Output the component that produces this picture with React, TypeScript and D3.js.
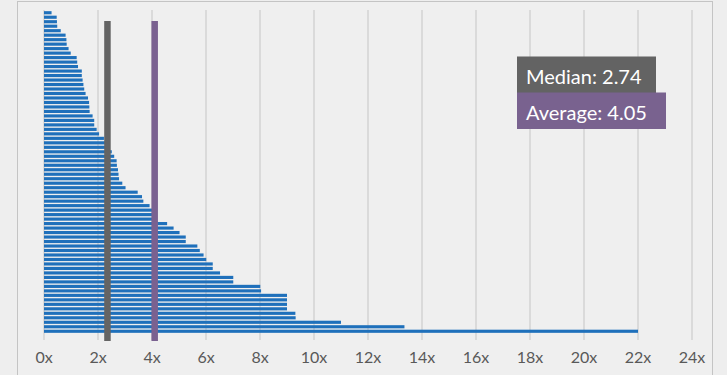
import React from "react";
import * as d3 from "d3";

const values: number[] = [
  0.28, 0.47, 0.48, 0.49, 0.62, 0.8, 0.83, 0.84, 0.91, 0.99,
  1.21, 1.23, 1.26, 1.4, 1.4, 1.43, 1.46, 1.49, 1.54, 1.63,
  1.67, 1.68, 1.69, 1.8, 1.86, 1.86, 1.95, 2.04, 2.22, 2.26,
  2.3, 2.51, 2.6, 2.69, 2.7, 2.74, 2.76, 2.78, 2.9, 3.02,
  3.47, 3.63, 3.68, 3.91, 4.0, 4.05, 4.1, 4.56, 4.8, 5.02,
  5.25, 5.25, 5.68, 5.77, 5.91, 6.01, 6.25, 6.25, 6.52, 7.01,
  7.01, 8.01, 8.04, 9.0, 9.0, 9.0, 9.0, 9.31, 9.32, 11.0,
  13.35, 22.0,
];
const tickValues: number[] = [0, 2, 4, 6, 8, 10, 12, 14, 16, 18, 20, 22, 24];
const refLabels: string[] = ["Median: 2.74", "Average: 4.05"];
const refLinePositions: number[] = [2.35, 4.1];

const W = 727;
const H = 375;

export default function App() {
  const x = d3.scaleLinear().domain([0, 24]).range([44, 692]);
  const y = d3
    .scaleBand<number>()
    .domain(values.map((_, i) => i))
    .range([10.5, 333.5])
    .paddingInner(0.3)
    .paddingOuter(0.15);
  const font = "Lato, 'Open Sans', sans-serif";
  const lineColors = ["#646464", "#7a6190"];
  return (
    <svg
      width={W}
      height={H}
      style={{ position: "absolute", left: 0, top: 0, display: "block" }}
    >
      <rect x={0} y={0} width={W} height={H} fill="#eeeeee" />
      <rect x={17.5} y={1.5} width={695} height={420} fill="#efefef" stroke="#c4c4c4" strokeWidth={1} />
      {tickValues.map((t) => (
        <line key={"g" + t} x1={x(t)} x2={x(t)} y1={10} y2={340} stroke="#dadada" strokeWidth={2} />
      ))}
      {values.map((v, i) => (
        <rect
          key={"b" + i}
          x={x(0)}
          y={y(i)}
          width={x(v) - x(0)}
          height={y.bandwidth()}
          fill="#1f70bb"
        />
      ))}
      {refLinePositions.map((p, i) => (
        <line key={"r" + i} x1={x(p)} x2={x(p)} y1={21} y2={341} stroke={lineColors[i]} strokeWidth={6.5} />
      ))}
      {tickValues.map((t) => (
        <text
          key={"t" + t}
          x={x(t)}
          y={363}
          textAnchor="middle"
          fontFamily={font}
          fontSize={16}
          fill="#595959"
        >
          {t + "x"}
        </text>
      ))}
      <rect x={517} y={56.5} width={139} height={36.5} fill="#636363" />
      <rect x={517} y={92.5} width={149} height={36.5} fill="#79628f" />
      {refLabels.map((l, i) => (
        <text
          key={"l" + i}
          x={526}
          y={84 + i * 35.5}
          fontFamily={font}
          fontSize={20}
          fill="#ffffff"
        >
          {l}
        </text>
      ))}
    </svg>
  );
}
